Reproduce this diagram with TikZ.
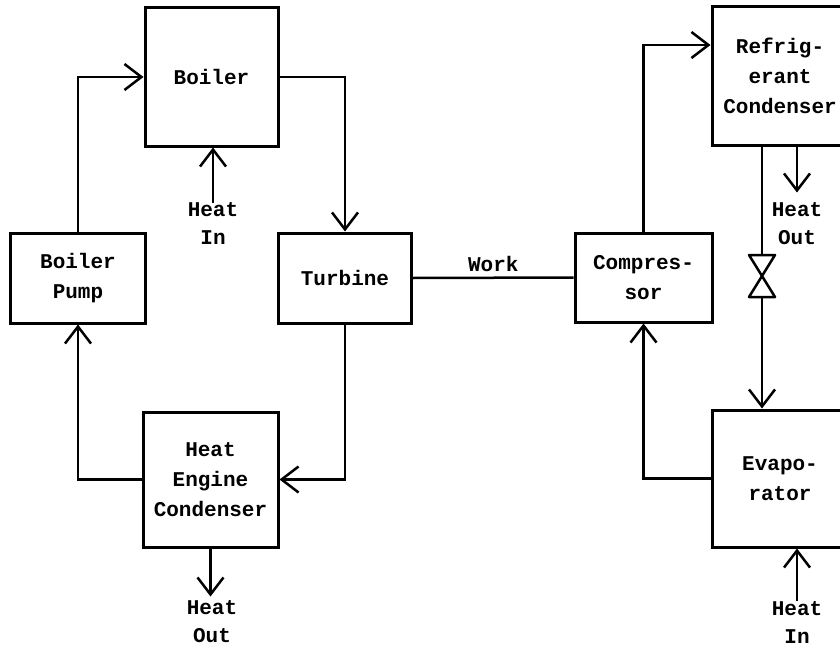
\documentclass[tikz,border=0pt]{standalone}
\usepackage{fontspec}
\setmainfont{Liberation Mono}
\usetikzlibrary{arrows.meta,calc}
\begin{document}
\begin{tikzpicture}[x=1pt,y=-1pt,
  blk/.style={draw,line width=3pt,align=center,inner sep=0pt,font=\bfseries\fontsize{21}{30}\selectfont},
  lbl/.style={align=center,inner sep=0pt,font=\bfseries\fontsize{21}{28}\selectfont},
  flow/.style={line width=2.5pt},
  arr/.style={flow,-{Straight Barb[length=17pt,width=26pt,line width=2.5pt]}}]
\useasboundingbox (0,0) rectangle (840,650);
\fill[white] (0,0) rectangle (840,650);
% boxes
\node[blk,minimum width=133pt,minimum height=138pt] (boiler) at (211.5,77) {Boiler};
\node[blk,minimum width=135pt,minimum height=90pt] (pump) at (78,278) {Boiler\\Pump};
\node[blk,minimum width=133pt,minimum height=90pt] (turb) at (345,278) {Turbine};
\node[blk,minimum width=135pt,minimum height=135pt] (cond) at (210.5,479.5) {Heat\\Engine\\Condenser};
\node[blk,minimum width=137pt,minimum height=89pt] (comp) at (643.5,277.5) {Compres-\\sor};
\node[blk,minimum width=136pt,minimum height=138pt] (refr) at (780,76) {Refrig-\\erant\\Condenser};
\node[blk,minimum width=136pt,minimum height=137pt] (evap) at (780,478.5) {Evapo-\\rator};
% labels
\node[lbl] (hin1) at (213,224) {Heat\\In};
\node[lbl] (hout1) at (212,622) {Heat\\Out};
\node[lbl] (hout2) at (797,224) {Heat\\Out};
\node[lbl] (hin2) at (797,622) {Heat\\In};
% heat-engine loop
\draw[arr] (pump.north) |- (boiler.west);
\draw[arr] (boiler.east) -| (turb.north);
\draw[arr] (turb.south) |- (cond.east);
\draw[arr] (cond.west) -| (pump.south);
\draw[arr] (hin1.north) -- (boiler.south -| hin1.north);
\coordinate (c1) at ($(cond.south)+(0,48)$);
\draw[arr] (cond.south) -- (c1);
% work
\draw[flow] (turb.east) -- node[lbl,above=5pt] (work) {Work} (comp.west);
% refrigeration loop
\draw[arr] (comp.north) |- ($(refr.west)+(0,-31)$);
\coordinate (v) at (762,276);
\coordinate (vt) at ($(v)+(0,-21)$);
\coordinate (vb) at ($(v)+(0,21)$);
\draw[flow] (refr.south -| v) -- (vt);
\draw[line width=2.5pt,line join=round] ($(vt)+(-13,0)$) -- ($(vt)+(13,0)$) -- ($(vb)+(-13,0)$) -- ($(vb)+(13,0)$) -- cycle;
\draw[arr] (vb) -- (evap.north -| v);
\coordinate (r1) at ($(refr.south -| hout2)+(0,46)$);
\draw[arr] (refr.south -| hout2) -- (r1);
\draw[arr] (evap.west) -| (comp.south);
\draw[arr] (hin2.north) -- (evap.south -| hin2);
\end{tikzpicture}
\end{document}
